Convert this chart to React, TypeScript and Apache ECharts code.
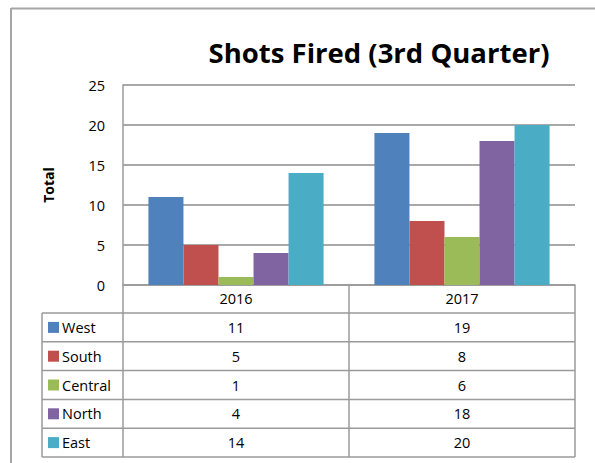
import React, { useEffect, useRef } from "react";
import * as echarts from "echarts";

const title = "Shots Fired (3rd Quarter)";
const yAxisName = "Total";
const categories = ["2016", "2017"];
const seriesNames = ["West", "South", "Central", "North", "East"];
const seriesColors = ["#4F81BD", "#C0504D", "#9BBB59", "#8064A2", "#4BACC6"];
const west = [11, 19];
const south = [5, 8];
const central = [1, 6];
const north = [4, 18];
const east = [14, 20];
const seriesValues = [west, south, central, north, east];
const yTicks = { min: 0, max: 25, interval: 5 };

const FONT = "'Open Sans', Lato, sans-serif";

export default function App() {
  const ref = useRef<HTMLDivElement>(null);
  useEffect(() => {
    if (!ref.current) return;
    const chart = echarts.init(ref.current, null, { renderer: "svg" });

    const gridLeft = 123;
    const gridRight = 575;
    const gridTop = 85;
    const gridBottom = 285;
    const tableLeft = 42;
    const catRowBottom = 313;
    const rowH = 28.8;
    const tableBottom = catRowBottom + rowH * seriesNames.length;
    const lineColor = "#9a9a9a";
    const colW = (gridRight - gridLeft) / categories.length;

    const graphics: any[] = [];
    graphics.push({ type: "line", shape: { x1: 11, y1: 8.5, x2: 595, y2: 8.5 }, style: { stroke: "#a6a6a6", lineWidth: 2 } });
    graphics.push({ type: "line", shape: { x1: 11, y1: 8, x2: 11, y2: 463 }, style: { stroke: "#a6a6a6", lineWidth: 2 } });
    for (let i = 0; i <= seriesNames.length; i++) {
      const y = catRowBottom + rowH * i;
      graphics.push({ type: "line", shape: { x1: tableLeft, y1: y, x2: gridRight, y2: y }, style: { stroke: lineColor, lineWidth: 1.5 } });
    }
    graphics.push({ type: "line", shape: { x1: tableLeft, y1: catRowBottom, x2: tableLeft, y2: tableBottom }, style: { stroke: lineColor, lineWidth: 1.5 } });
    for (let c = 0; c <= categories.length; c++) {
      const x = gridLeft + colW * c;
      graphics.push({ type: "line", shape: { x1: x, y1: gridBottom, x2: x, y2: tableBottom }, style: { stroke: lineColor, lineWidth: 1.5 } });
    }
    seriesNames.forEach((name, i) => {
      const yc = catRowBottom + rowH * i + rowH / 2;
      graphics.push({ type: "rect", shape: { x: 48, y: yc - 5.5, width: 11, height: 11 }, style: { fill: seriesColors[i] } });
      graphics.push({
        type: "text", x: 62, y: yc,
        style: { text: name, font: `14.5px ${FONT}`, fill: "#000", verticalAlign: "middle" },
      });
      categories.forEach((_, c) => {
        graphics.push({
          type: "text", x: gridLeft + colW * c + colW / 2, y: yc,
          style: { text: String(seriesValues[i][c]), font: `14.5px ${FONT}`, fill: "#000", align: "center", verticalAlign: "middle" },
        });
      });
    });

    chart.setOption({
      animation: false,
      backgroundColor: "#fff",
      title: {
        text: title,
        left: 374,
        top: 33,
        textAlign: "center",
        textStyle: { fontFamily: FONT, fontWeight: "bold", fontSize: 27.5, color: "#000" },
      },
      grid: { left: gridLeft, right: 595 - gridRight, top: gridTop, bottom: 463 - gridBottom },
      xAxis: {
        type: "category",
        data: categories,
        axisLine: { show: true, lineStyle: { color: lineColor, width: 1.5 } },
        axisTick: { show: false },
        axisLabel: { margin: 6, fontFamily: FONT, fontSize: 14.5, color: "#000" },
      },
      yAxis: {
        type: "value",
        min: yTicks.min,
        max: yTicks.max,
        interval: yTicks.interval,
        name: yAxisName,
        nameLocation: "middle",
        nameGap: 68,
        nameRotate: 90,
        nameTextStyle: { fontFamily: FONT, fontWeight: "bold", fontSize: 14, color: "#000" },
        axisLine: { show: true, lineStyle: { color: lineColor, width: 1.5 } },
        axisTick: { show: false },
        axisLabel: { margin: 18, fontFamily: FONT, fontSize: 14.5, color: "#000" },
        splitLine: { show: true, lineStyle: { color: "#8c8c8c", width: 1.5 } },
      },
      series: seriesNames.map((name, i) => ({
        name,
        type: "bar",
        data: seriesValues[i],
        barGap: "0%",
        barCategoryGap: "22.5%",
        itemStyle: { color: seriesColors[i] },
      })),
      graphic: graphics,
    });
    return () => chart.dispose();
  }, []);
  return <div ref={ref} style={{ position: "fixed", left: 0, top: 0, width: 595, height: 463 }} />;
}
